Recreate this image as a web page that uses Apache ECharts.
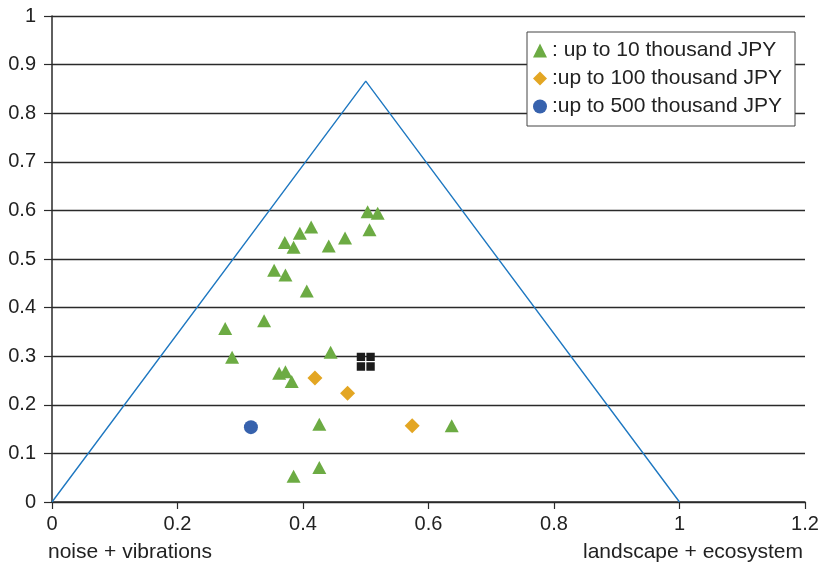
<!DOCTYPE html>
<html>
<head>
<meta charset="utf-8">
<style>
  html, body { margin: 0; padding: 0; background: #fff; }
  #chart { width: 823px; height: 568px; }
</style>
<script src="https://cdn.jsdelivr.net/npm/echarts@6/dist/echarts.min.js"></script>
</head>
<body>
<div id="chart"></div>
<script>
// Ternary-style impact triangle: noise + vibrations / landscape + ecosystem / accidents
const triangleCorners = [[0, 0], [0.5, 0.866], [1, 0]];
const centroid = [[0.5, 0.2887]];

const seriesNames = [': up to 10 thousand JPY', ':up to 100 thousand JPY', ':up to 500 thousand JPY'];

const upTo10k = [
  [0.503, 0.597], [0.519, 0.594], [0.506, 0.560], [0.413, 0.566], [0.395, 0.553],
  [0.371, 0.534], [0.385, 0.524], [0.441, 0.527], [0.467, 0.543], [0.354, 0.477],
  [0.372, 0.467], [0.406, 0.434], [0.276, 0.357], [0.338, 0.373], [0.287, 0.298],
  [0.444, 0.308], [0.362, 0.265], [0.372, 0.268], [0.382, 0.248], [0.426, 0.160],
  [0.637, 0.157], [0.385, 0.053], [0.426, 0.071]
];
const upTo100k = [[0.419, 0.255], [0.471, 0.224], [0.574, 0.157]];
const upTo500k = [[0.317, 0.154]];

const xTicks = { min: 0, max: 1.2, interval: 0.2 };
const yTicks = { min: 0, max: 1, interval: 0.1 };

const FONT = '"Liberation Sans", Arial, Helvetica, sans-serif';
const FS = 21;
const green = '#6cab43';
const orange = '#e3a623';
const blue = '#3762ad';
const lineBlue = '#1f78c1';

const chart = echarts.init(document.getElementById('chart'), null, { renderer: 'canvas' });

chart.setOption({
  animation: false,
  backgroundColor: '#fff',
  grid: { left: 52, right: 18, top: 16, bottom: 66, containLabel: false },
  xAxis: {
    type: 'value', min: xTicks.min, max: xTicks.max, interval: xTicks.interval,
    axisLine: { show: true, onZero: false, lineStyle: { color: '#2a2a2a', width: 1.5 } },
    axisTick: { show: true, inside: false, length: 7, lineStyle: { color: '#2a2a2a', width: 1.2 } },
    splitLine: { show: false },
    axisLabel: {
      color: '#222', fontSize: 20, fontFamily: FONT, margin: 12,
      formatter: v => String(Math.round(v * 10) / 10)
    }
  },
  yAxis: {
    type: 'value', min: yTicks.min, max: yTicks.max, interval: yTicks.interval,
    axisLine: { show: true, lineStyle: { color: '#2a2a2a', width: 1.5 } },
    axisTick: { show: true, inside: false, length: 8, lineStyle: { color: '#2a2a2a', width: 1.2 } },
    splitLine: { show: true, lineStyle: { color: '#2a2a2a', width: 1.4 } },
    axisLabel: {
      color: '#222', fontSize: 20, fontFamily: FONT, margin: 16,
      formatter: v => String(Math.round(v * 10) / 10)
    }
  },
  legend: {
    orient: 'vertical',
    left: 527, top: 32,
    backgroundColor: '#fff',
    borderColor: '#444', borderWidth: 1,
    padding: [8, 13, 9, 6],
    itemGap: 7,
    itemWidth: 14, itemHeight: 14,
    textStyle: { color: '#222', fontSize: FS, fontFamily: FONT },
    data: [
      { name: seriesNames[0], icon: 'triangle' },
      { name: seriesNames[1], icon: 'diamond' },
      { name: seriesNames[2], icon: 'circle' }
    ]
  },
  graphic: [
    { type: 'text', left: 48, top: 542, style: { text: 'noise + vibrations', fill: '#222', font: FS + 'px ' + FONT } },
    { type: 'text', right: 20, top: 542, style: { text: 'landscape + ecosystem', fill: '#222', font: FS + 'px ' + FONT } }
  ],
  series: [
    {
      type: 'line', name: 'outline', silent: true,
      data: triangleCorners.map((p, i) => i === 1 ? {
        value: p,
        label: { show: true, position: 'top', distance: 20, formatter: 'accidents',
                 color: '#222', fontSize: FS, fontFamily: FONT }
      } : p),
      symbol: 'none', showSymbol: false,
      lineStyle: { color: lineBlue, width: 1.4 },
      z: 2
    },
    {
      type: 'scatter', name: 'centroid', silent: true,
      data: centroid,
      symbol: 'path://M0,0H9.3V9.3H0Z M10.7,0H20V9.3H10.7Z M0,10.7H9.3V20H0Z M10.7,10.7H20V20H10.7Z',
      symbolSize: 18,
      itemStyle: { color: '#1c1c1c', opacity: 1 },
      z: 3
    },
    {
      type: 'scatter', name: seriesNames[0], data: upTo10k,
      symbol: 'triangle', symbolSize: [14, 13],
      itemStyle: { color: green, opacity: 1 }, z: 4
    },
    {
      type: 'scatter', name: seriesNames[1], data: upTo100k,
      symbol: 'diamond', symbolSize: [15, 15],
      itemStyle: { color: orange, opacity: 1 }, z: 4
    },
    {
      type: 'scatter', name: seriesNames[2], data: upTo500k,
      symbol: 'circle', symbolSize: 14,
      itemStyle: { color: blue, opacity: 1 }, z: 4
    }
  ]
});
</script>
</body>
</html>
